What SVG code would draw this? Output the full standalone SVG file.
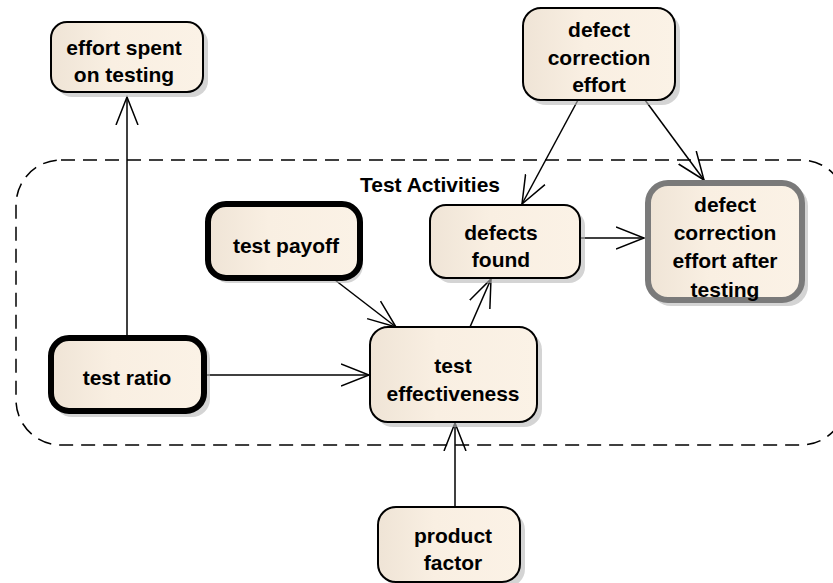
<svg xmlns="http://www.w3.org/2000/svg" width="833" height="583" viewBox="0 0 833 583">
<style>
.box{fill:url(#g);stroke:#000;stroke-width:2}
.thick{fill:url(#g);stroke:#000;stroke-width:6}
.gray{fill:url(#g);stroke:#7a7a7a;stroke-width:6}
.sh{fill:#b8b8b8;opacity:0.6}
.t{font-family:"Liberation Sans",Arial,sans-serif;font-weight:bold;font-size:21px;fill:#000;text-anchor:middle}
.c{fill:none;stroke:#000;stroke-width:1.5}
.b{fill:none;stroke:#000;stroke-width:1.5;stroke-dasharray:14 8}
</style>
<defs>
<linearGradient id="g" x1="0" y1="0" x2="1" y2="0">
<stop offset="0" stop-color="#efe4d6"/>
<stop offset="0.4" stop-color="#f9efe2"/>
<stop offset="1" stop-color="#fbf2e6"/>
</linearGradient>
<marker id="a" markerWidth="30" markerHeight="26" refX="28" refY="13" orient="auto" markerUnits="userSpaceOnUse">
<path d="M0,2 L28,13 L0,24" fill="none" stroke="#000" stroke-width="1.5"/>
</marker>
</defs>
<rect id="boundary" class="b" x="16" y="160" width="830" height="285" rx="45"/>
<text class="t" x="430" y="192">Test Activities</text>
<g id="connectors">
<line class="c" x1="127" y1="335" x2="127" y2="97" marker-end="url(#a)"/>
<line class="c" x1="207" y1="375" x2="369" y2="375" marker-end="url(#a)"/>
<line class="c" x1="335" y1="280" x2="396" y2="327" marker-end="url(#a)"/>
<line class="c" x1="470" y1="327" x2="491" y2="279" marker-end="url(#a)"/>
<line class="c" x1="455" y1="507" x2="455" y2="423" marker-end="url(#a)"/>
<line class="c" x1="580" y1="238" x2="644" y2="238" marker-end="url(#a)"/>
<line class="c" x1="578" y1="100" x2="522" y2="204" marker-end="url(#a)"/>
<line class="c" x1="645" y1="100" x2="704" y2="180" marker-end="url(#a)"/>
</g>
<g id="effort-spent">
<rect class="sh" x="56" y="27" width="152" height="70" rx="16"/>
<rect class="box" x="51" y="22" width="152" height="70" rx="16"/>
<text class="t" x="124" y="55">effort spent</text>
<text class="t" x="124" y="82">on testing</text>
</g>
<g id="defect-correction-effort">
<rect class="sh" x="528" y="13" width="152" height="92" rx="18"/>
<rect class="box" x="523" y="8" width="152" height="92" rx="18"/>
<text class="t" x="599" y="37">defect</text>
<text class="t" x="599" y="65">correction</text>
<text class="t" x="599" y="92">effort</text>
</g>
<g id="test-payoff">
<rect class="sh" x="211" y="207" width="152" height="76" rx="18"/>
<rect class="thick" x="208" y="204" width="152" height="74" rx="18"/>
<text class="t" x="286" y="253">test payoff</text>
</g>
<g id="defects-found">
<rect class="sh" x="435" y="210" width="150" height="73" rx="16"/>
<rect class="box" x="430" y="205" width="150" height="73" rx="16"/>
<text class="t" x="501" y="240">defects</text>
<text class="t" x="501" y="267">found</text>
</g>
<g id="defect-correction-after">
<rect class="sh" x="651" y="186" width="157" height="120" rx="20"/>
<rect class="gray" x="648" y="183" width="154" height="117" rx="20"/>
<text class="t" x="725" y="212">defect</text>
<text class="t" x="725" y="240">correction</text>
<text class="t" x="725" y="268">effort after</text>
<text class="t" x="725" y="297">testing</text>
</g>
<g id="test-ratio">
<rect class="sh" x="54" y="341" width="156" height="76" rx="18"/>
<rect class="thick" x="51" y="338" width="153" height="73" rx="18"/>
<text class="t" x="127" y="385">test ratio</text>
</g>
<g id="test-effectiveness">
<rect class="sh" x="375" y="332" width="167" height="95" rx="18"/>
<rect class="box" x="370" y="327" width="167" height="95" rx="18"/>
<text class="t" x="453" y="373">test</text>
<text class="t" x="453" y="401">effectiveness</text>
</g>
<g id="product-factor">
<rect class="sh" x="383" y="512" width="142" height="75" rx="18"/>
<rect class="box" x="378" y="507" width="142" height="75" rx="18"/>
<text class="t" x="453" y="543">product</text>
<text class="t" x="453" y="570">factor</text>
</g>
</svg>
